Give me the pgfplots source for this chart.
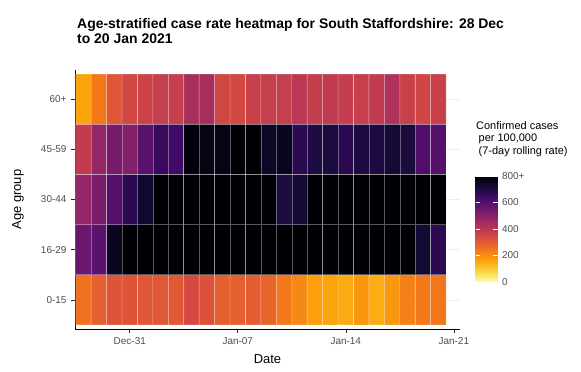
\documentclass[border=0pt]{standalone}
\usepackage{pgfplots}
\pgfplotsset{compat=1.18}
\usepackage{pgfplotstable}
\usepackage{fontspec}
\setmainfont{Liberation Sans}
\definecolor{tickgray}{HTML}{4D4D4D}
\pgfplotstableread{
x y c
0 0 255
1 0 290
2 0 315
3 0 315
4 0 310
5 0 305
6 0 305
7 0 345
8 0 320
9 0 290
10 0 290
11 0 295
12 0 280
13 0 240
14 0 210
15 0 170
16 0 160
17 0 150
18 0 185
19 0 148
20 0 185
21 0 225
22 0 240
23 0 245
0 1 560
1 1 590
2 1 760
3 1 800
4 1 800
5 1 800
6 1 800
7 1 800
8 1 800
9 1 800
10 1 800
11 1 800
12 1 800
13 1 800
14 1 800
15 1 800
16 1 800
17 1 800
18 1 800
19 1 800
20 1 800
21 1 800
22 1 730
23 1 680
0 2 475
1 2 530
2 2 605
3 2 680
4 2 735
5 2 800
6 2 800
7 2 800
8 2 800
9 2 800
10 2 800
11 2 800
12 2 800
13 2 705
14 2 725
15 2 800
16 2 800
17 2 800
18 2 800
19 2 800
20 2 800
21 2 800
22 2 800
23 2 800
0 3 385
1 3 480
2 3 535
3 3 510
4 3 590
5 3 655
6 3 640
7 3 790
8 3 780
9 3 775
10 3 800
11 3 800
12 3 750
13 3 760
14 3 680
15 3 705
16 3 710
17 3 680
18 3 705
19 3 710
20 3 725
21 3 710
22 3 615
23 3 600
0 4 160
1 4 240
2 4 310
3 4 350
4 4 365
5 4 375
6 4 375
7 4 440
8 4 440
9 4 350
10 4 345
11 4 370
12 4 375
13 4 375
14 4 400
15 4 380
16 4 390
17 4 380
18 4 375
19 4 385
20 4 425
21 4 370
22 4 355
23 4 370
}\ratetable
\begin{document}
\begin{tikzpicture}
\path[use as bounding box] (-75bp,-43bp) rectangle (506bp,329bp);
\begin{axis}[
  name=main,
  at={(0,0)}, anchor=south west,
  scale only axis, width=385bp, height=259bp,
  xmin=-0.55, xmax=24.4, ymin=-0.58, ymax=4.58,
  axis lines*=left,
  axis line style={black, line width=0.8bp},
  xtick={3,10,17,24}, xticklabels={Dec-31,Jan-07,Jan-14,Jan-21},
  ytick={0,1,2,3,4}, yticklabels={0-15,16-29,30-44,45-59,60+},
  tick align=outside, major tick length=4bp,
  tick style={black!85, line width=0.6bp},
  ticklabel style={font=\fontsize{10}{12}\selectfont, text=tickgray},
  xticklabel style={yshift=-1bp},
  yticklabel style={xshift=-1bp},
  ymajorgrids, major grid style={black!7, line width=0.5bp},
  xlabel={Date}, ylabel={Age group},
  label style={font=\fontsize{13}{15}\selectfont},
  x label style={at={(axis description cs:0.5,-0.116)}, anchor=center},
  y label style={at={(axis description cs:-0.148,0.5)}, anchor=center},
  colormap={infernor}{rgb255=(252,255,164) rgb255=(246,215,70) rgb255=(252,165,10) rgb255=(243,120,25) rgb255=(221,81,58) rgb255=(188,55,84) rgb255=(147,38,103) rgb255=(106,23,110) rgb255=(66,10,104) rgb255=(22,11,57) rgb255=(0,0,4)},
  point meta min=0, point meta max=800,
  colorbar,
  colorbar/width=22bp,
  colorbar style={
    at={(parent axis.south east)}, anchor=south west,
    xshift=7bp, yshift=47bp,
    scale only axis,
    width=22bp, height=106bp,
    axis line style={draw=none},
    ytick={0,200,400,600,800},
    yticklabels={0,200,400,600,800+},
    ytick pos=both, yticklabel pos=right,
    tick align=inside, major tick length=4.4bp,
    tick style={white, line width=0.6bp},
    yticklabel style={font=\fontsize{10}{12}\selectfont, text=tickgray, xshift=1bp},
  },
]
\addplot[matrix plot*, mesh/cols=24, point meta=explicit,
  shader=faceted, faceted color=white, draw opacity=0.35, line width=0.6bp]
  table[x=x, y=y, meta=c] {\ratetable};
\end{axis}
\node[anchor=north west, inner sep=0, align=left,
  font=\bfseries\fontsize{14}{14.5}\selectfont] at (2bp,310.5bp)
  {Age-stratified case rate heatmap for South Staffordshire: 28 Dec\\to 20 Jan 2021};
\node[anchor=north west, inner sep=0, align=left,
  font=\fontsize{11}{12.5}\selectfont] at (401bp,208bp)
  {Confirmed cases\\\hspace{2.5bp}per 100,000\\\hspace{2.5bp}(7-day rolling rate)};
\end{tikzpicture}
\end{document}
